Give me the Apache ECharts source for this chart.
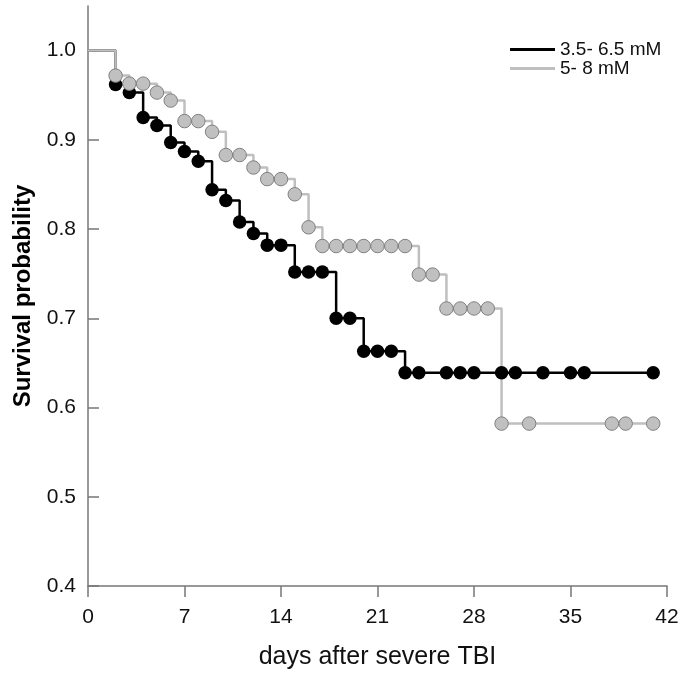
<!DOCTYPE html>
<html>
<head>
<meta charset="utf-8">
<script src="https://cdn.jsdelivr.net/npm/echarts@6/dist/echarts.min.js"></script>
<style>html,body{margin:0;padding:0;background:#fff}#c{width:685px;height:678px}</style>
</head>
<body>
<div id="c"></div>
<script>
// Group 1: 3.5- 6.5 mM
var blackName = '3.5- 6.5 mM';
var blackDays = [0,2,3,4,5,6,7,8,9,10,11,12,13,14,15,16,17,18,19,20,21,22,23,24,26,27,28,30,31,33,35,36,41];
var blackSurv = [1.0,0.962,0.953,0.925,0.916,0.897,0.887,0.876,0.844,0.832,0.808,0.795,0.782,0.782,0.752,0.752,0.752,0.700,0.700,0.663,0.663,0.663,0.639,0.639,0.639,0.639,0.639,0.639,0.639,0.639,0.639,0.639,0.639];
// Group 2: 5- 8 mM
var greyName = '5- 8 mM';
var greyDays = [0,2,3,4,5,6,7,8,9,10,11,12,13,14,15,16,17,18,19,20,21,22,23,24,25,26,27,28,29,30,32,38,39,41];
var greySurv = [1.0,0.972,0.963,0.963,0.953,0.944,0.921,0.921,0.909,0.883,0.883,0.869,0.856,0.856,0.839,0.802,0.781,0.781,0.781,0.781,0.781,0.781,0.781,0.749,0.749,0.711,0.711,0.711,0.711,0.582,0.582,0.582,0.582,0.582];
// Tick labels
var xTicks = [0,7,14,21,28,35,42];
var yTicks = [0.4,0.5,0.6,0.7,0.8,0.9,1.0];

function build(days, surv) {
  return days.map(function (d, i) {
    var item = { value: [d, surv[i]] };
    if (i === 0) item.symbol = 'none';
    return item;
  });
}

var chart = echarts.init(document.getElementById('c'));
var axisColor = '#777';
var font = '"Liberation Sans", Arial, Helvetica, sans-serif';
chart.setOption({
  animation: false,
  backgroundColor: '#fff',
  textStyle: { fontFamily: font },
  grid: { left: 88, right: 18, top: 6, bottom: 92, containLabel: false },
  legend: {
    orient: 'vertical',
    left: 505, top: 35,
    icon: 'rect',
    itemWidth: 45, itemHeight: 3,
    itemGap: 0,
    textStyle: { fontSize: 19, color: '#111', fontFamily: font, lineHeight: 19, padding: [0,0,0,0] },
    data: [
      { name: blackName, itemStyle: { color: '#000', borderWidth: 0 } },
      { name: greyName, itemStyle: { color: '#bfbfbf', borderWidth: 0 } }
    ]
  },
  xAxis: {
    type: 'value', min: 0, max: 42, interval: 7,
    name: 'days after severe TBI', nameLocation: 'middle', nameGap: 59,
    nameTextStyle: { fontSize: 25, color: '#111', fontFamily: font },
    axisLine: { show: true, lineStyle: { color: axisColor, width: 1.5 } },
    axisTick: { show: true, length: 11, inside: false, lineStyle: { color: axisColor, width: 1.5 } },
    axisLabel: { fontSize: 21, color: '#111', margin: 21, customValues: xTicks },
    splitLine: { show: false }
  },
  yAxis: {
    type: 'value', min: 0.4, max: 1.05,
    name: 'Survival probability', nameLocation: 'middle', nameGap: 53,
    nameTextStyle: { fontSize: 24, fontWeight: 'bold', color: '#000', fontFamily: font },
    axisLine: { show: true, lineStyle: { color: axisColor, width: 1.5 } },
    axisTick: { show: true, length: 11, inside: true, customValues: yTicks, lineStyle: { color: axisColor, width: 1.5 } },
    axisLabel: { fontSize: 21, color: '#111', margin: 12, customValues: yTicks, formatter: function (v) { return v.toFixed(1); } },
    splitLine: { show: false }
  },
  series: [
    {
      name: blackName, type: 'line', step: 'end',
      data: build(blackDays, blackSurv),
      symbol: 'circle', symbolSize: 13.5, showAllSymbol: true,
      lineStyle: { color: '#000', width: 2.5 },
      itemStyle: { color: '#000', borderWidth: 0 }
    },
    {
      name: greyName, type: 'line', step: 'end',
      data: build(greyDays, greySurv),
      symbol: 'circle', symbolSize: 13.5, showAllSymbol: true,
      lineStyle: { color: '#bfbfbf', width: 2.5 },
      itemStyle: { color: '#c0c0c0', borderColor: '#808080', borderWidth: 1 }
    }
  ]
});
</script>
</body>
</html>
